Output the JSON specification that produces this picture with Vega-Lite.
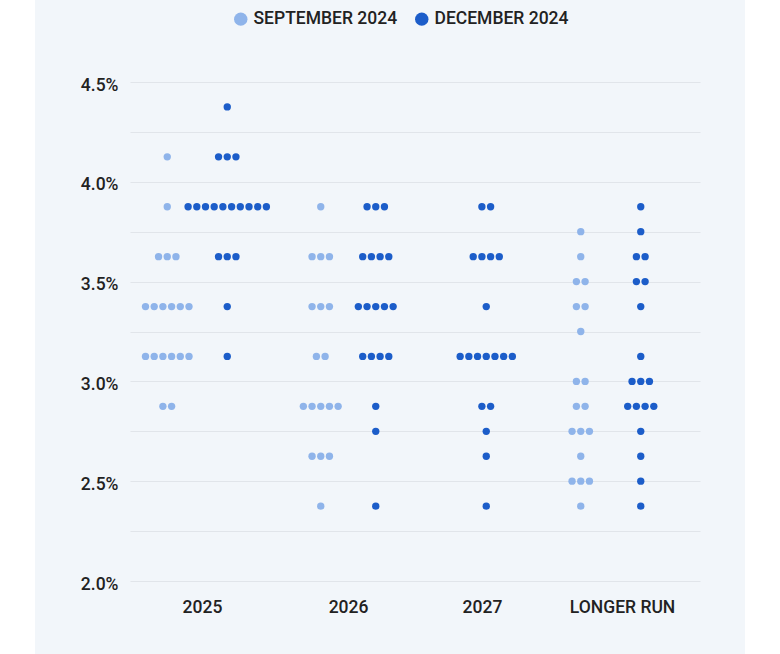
{
  "$schema": "https://vega.github.io/schema/vega-lite/v6.json",
  "width": 570,
  "height": 499,
  "autosize": {"type": "none"},
  "padding": {"left": 130, "top": 82, "right": 80, "bottom": 73},
  "background": "#f2f6fa",
  "config": {
    "view": {"stroke": null},
    "font": "Roboto",
    "axis": {"labelFont": "Roboto", "labelFontWeight": 500, "labelColor": "#222222", "domain": false, "ticks": false, "title": null}
  },
  "encoding": {
    "x": {"type": "quantitative", "scale": {"domain": [-0.5, 3.5], "nice": false, "zero": false},
      "axis": {"values": [0.005, 1.03, 1.97, 2.953], "grid": false, "labelFontSize": 17.5, "labelPadding": 17, "labelExpr": "['2025','2026','2027','LONGER RUN'][round(datum.value)]"}},
    "y": {"type": "quantitative", "scale": {"domain": [2, 4.5], "nice": false, "zero": false},
      "axis": {"values": [2, 2.25, 2.5, 2.75, 3, 3.25, 3.5, 3.75, 4, 4.25, 4.5], "grid": true, "gridColor": "#e1e5ea", "gridWidth": 1, "labelFontSize": 17.5, "labelPadding": 12, "labelOffset": 3, "labelExpr": "(datum.value*2)%1==0 ? format(datum.value,'.1f')+'%' : ''"}}
  },
  "layer": [
    {
      "data": {"values": [{"panel": "left margin"}]},
      "mark": {"type": "rect", "color": "white", "clip": false},
      "encoding": {
        "x": {"datum": -1.45},
        "x2": {"datum": -1.1667},
        "y": {"datum": 4.95},
        "y2": {"datum": 1.6}
      }
    },
    {
      "data": {"values": [{"panel": "right margin"}]},
      "mark": {"type": "rect", "color": "white", "clip": false},
      "encoding": {
        "x": {"datum": 3.8158},
        "x2": {"datum": 4.1},
        "y": {"datum": 4.95},
        "y2": {"datum": 1.6}
      }
    },
    {
      "data": {"values": [
        {"c":"2025","s":"Sep","r":4.125},{"c":"2025","s":"Sep","r":3.875},
        {"c":"2025","s":"Sep","r":3.625},{"c":"2025","s":"Sep","r":3.625},{"c":"2025","s":"Sep","r":3.625},
        {"c":"2025","s":"Sep","r":3.375},{"c":"2025","s":"Sep","r":3.375},{"c":"2025","s":"Sep","r":3.375},{"c":"2025","s":"Sep","r":3.375},{"c":"2025","s":"Sep","r":3.375},{"c":"2025","s":"Sep","r":3.375},
        {"c":"2025","s":"Sep","r":3.125},{"c":"2025","s":"Sep","r":3.125},{"c":"2025","s":"Sep","r":3.125},{"c":"2025","s":"Sep","r":3.125},{"c":"2025","s":"Sep","r":3.125},{"c":"2025","s":"Sep","r":3.125},
        {"c":"2025","s":"Sep","r":2.875},{"c":"2025","s":"Sep","r":2.875},
        {"c":"2025","s":"Dec","r":4.375},
        {"c":"2025","s":"Dec","r":4.125},{"c":"2025","s":"Dec","r":4.125},{"c":"2025","s":"Dec","r":4.125},
        {"c":"2025","s":"Dec","r":3.875},{"c":"2025","s":"Dec","r":3.875},{"c":"2025","s":"Dec","r":3.875},{"c":"2025","s":"Dec","r":3.875},{"c":"2025","s":"Dec","r":3.875},{"c":"2025","s":"Dec","r":3.875},{"c":"2025","s":"Dec","r":3.875},{"c":"2025","s":"Dec","r":3.875},{"c":"2025","s":"Dec","r":3.875},{"c":"2025","s":"Dec","r":3.875},
        {"c":"2025","s":"Dec","r":3.625},{"c":"2025","s":"Dec","r":3.625},{"c":"2025","s":"Dec","r":3.625},
        {"c":"2025","s":"Dec","r":3.375},{"c":"2025","s":"Dec","r":3.125},
        {"c":"2026","s":"Sep","r":3.875},
        {"c":"2026","s":"Sep","r":3.625},{"c":"2026","s":"Sep","r":3.625},{"c":"2026","s":"Sep","r":3.625},
        {"c":"2026","s":"Sep","r":3.375},{"c":"2026","s":"Sep","r":3.375},{"c":"2026","s":"Sep","r":3.375},
        {"c":"2026","s":"Sep","r":3.125},{"c":"2026","s":"Sep","r":3.125},
        {"c":"2026","s":"Sep","r":2.875},{"c":"2026","s":"Sep","r":2.875},{"c":"2026","s":"Sep","r":2.875},{"c":"2026","s":"Sep","r":2.875},{"c":"2026","s":"Sep","r":2.875},
        {"c":"2026","s":"Sep","r":2.625},{"c":"2026","s":"Sep","r":2.625},{"c":"2026","s":"Sep","r":2.625},
        {"c":"2026","s":"Sep","r":2.375},
        {"c":"2026","s":"Dec","r":3.875},{"c":"2026","s":"Dec","r":3.875},{"c":"2026","s":"Dec","r":3.875},
        {"c":"2026","s":"Dec","r":3.625},{"c":"2026","s":"Dec","r":3.625},{"c":"2026","s":"Dec","r":3.625},{"c":"2026","s":"Dec","r":3.625},
        {"c":"2026","s":"Dec","r":3.375},{"c":"2026","s":"Dec","r":3.375},{"c":"2026","s":"Dec","r":3.375},{"c":"2026","s":"Dec","r":3.375},{"c":"2026","s":"Dec","r":3.375},
        {"c":"2026","s":"Dec","r":3.125},{"c":"2026","s":"Dec","r":3.125},{"c":"2026","s":"Dec","r":3.125},{"c":"2026","s":"Dec","r":3.125},
        {"c":"2026","s":"Dec","r":2.875},{"c":"2026","s":"Dec","r":2.75},{"c":"2026","s":"Dec","r":2.375},
        {"c":"2027","s":"Dec","r":3.875},{"c":"2027","s":"Dec","r":3.875},
        {"c":"2027","s":"Dec","r":3.625},{"c":"2027","s":"Dec","r":3.625},{"c":"2027","s":"Dec","r":3.625},{"c":"2027","s":"Dec","r":3.625},
        {"c":"2027","s":"Dec","r":3.375},
        {"c":"2027","s":"Dec","r":3.125},{"c":"2027","s":"Dec","r":3.125},{"c":"2027","s":"Dec","r":3.125},{"c":"2027","s":"Dec","r":3.125},{"c":"2027","s":"Dec","r":3.125},{"c":"2027","s":"Dec","r":3.125},{"c":"2027","s":"Dec","r":3.125},
        {"c":"2027","s":"Dec","r":2.875},{"c":"2027","s":"Dec","r":2.875},
        {"c":"2027","s":"Dec","r":2.75},{"c":"2027","s":"Dec","r":2.625},{"c":"2027","s":"Dec","r":2.375},
        {"c":"LONGER RUN","s":"Sep","r":3.75},{"c":"LONGER RUN","s":"Sep","r":3.625},
        {"c":"LONGER RUN","s":"Sep","r":3.5},{"c":"LONGER RUN","s":"Sep","r":3.5},
        {"c":"LONGER RUN","s":"Sep","r":3.375},{"c":"LONGER RUN","s":"Sep","r":3.375},
        {"c":"LONGER RUN","s":"Sep","r":3.25},
        {"c":"LONGER RUN","s":"Sep","r":3.0},{"c":"LONGER RUN","s":"Sep","r":3.0},
        {"c":"LONGER RUN","s":"Sep","r":2.875},{"c":"LONGER RUN","s":"Sep","r":2.875},
        {"c":"LONGER RUN","s":"Sep","r":2.75},{"c":"LONGER RUN","s":"Sep","r":2.75},{"c":"LONGER RUN","s":"Sep","r":2.75},
        {"c":"LONGER RUN","s":"Sep","r":2.625},
        {"c":"LONGER RUN","s":"Sep","r":2.5},{"c":"LONGER RUN","s":"Sep","r":2.5},{"c":"LONGER RUN","s":"Sep","r":2.5},
        {"c":"LONGER RUN","s":"Sep","r":2.375},
        {"c":"LONGER RUN","s":"Dec","r":3.875},{"c":"LONGER RUN","s":"Dec","r":3.75},
        {"c":"LONGER RUN","s":"Dec","r":3.625},{"c":"LONGER RUN","s":"Dec","r":3.625},
        {"c":"LONGER RUN","s":"Dec","r":3.5},{"c":"LONGER RUN","s":"Dec","r":3.5},
        {"c":"LONGER RUN","s":"Dec","r":3.375},{"c":"LONGER RUN","s":"Dec","r":3.125},
        {"c":"LONGER RUN","s":"Dec","r":3.0},{"c":"LONGER RUN","s":"Dec","r":3.0},{"c":"LONGER RUN","s":"Dec","r":3.0},
        {"c":"LONGER RUN","s":"Dec","r":2.875},{"c":"LONGER RUN","s":"Dec","r":2.875},{"c":"LONGER RUN","s":"Dec","r":2.875},{"c":"LONGER RUN","s":"Dec","r":2.875},
        {"c":"LONGER RUN","s":"Dec","r":2.75},{"c":"LONGER RUN","s":"Dec","r":2.625},{"c":"LONGER RUN","s":"Dec","r":2.5},{"c":"LONGER RUN","s":"Dec","r":2.375}
      ]},
      "transform": [
        {"window": [{"op": "row_number", "as": "k"}], "groupby": ["c", "s", "r"]},
        {"joinaggregate": [{"op": "count", "as": "n"}], "groupby": ["c", "s", "r"]},
        {"calculate": "indexof(['2025','2026','2027','LONGER RUN'], datum.c)", "as": "ci"},
        {"calculate": "datum.c=='2025' ? (datum.s=='Sep' ? -34 : 26) : datum.c=='2026' ? (datum.s=='Sep' ? -23 : 32) : datum.c=='2027' ? 0 : (datum.s=='Sep' ? -48 : 12)", "as": "off"},
        {"calculate": "datum.ci + (datum.off + (datum.k - (datum.n + 1) / 2) * 8.7) / 142.5", "as": "xp"}
      ],
      "mark": {"type": "circle", "size": 54, "opacity": 1},
      "encoding": {
        "x": {"field": "xp"},
        "y": {"field": "r"},
        "color": {"field": "s", "type": "nominal",
          "scale": {"domain": ["Sep", "Dec"], "range": ["#8fb4ea", "#1c5dc9"]},
          "legend": {"title": null, "orient": "none", "legendX": 102, "legendY": -72, "direction": "horizontal",
            "symbolType": "circle", "symbolSize": 180, "symbolOpacity": 1, "labelFontSize": 17.5, "labelFont": "Roboto", "labelFontWeight": 500,
            "labelColor": "#222222", "labelOffset": 4, "columnPadding": 15, "padding": 0,
            "labelExpr": "datum.label=='Sep' ? 'SEPTEMBER 2024' : 'DECEMBER 2024'"}}
      }
    }
  ]
}
